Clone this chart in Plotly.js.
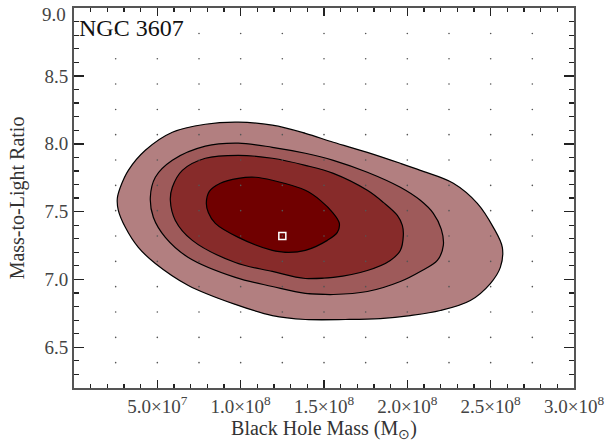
<!DOCTYPE html>
<html>
<head>
<meta charset="utf-8">
<script src="https://cdn.plot.ly/plotly-3.0.1.min.js"></script>
<style>html,body{margin:0;padding:0;background:#fff;}#chart{width:608px;height:444px;}</style>
</head>
<body>
<div id="chart"></div>
<script>
// Confidence contour outlines (black hole mass, M/L)
const c1X = [2.60e7,2.78e7,3.26e7,4.28e7,5.90e7,7.88e7,9.86e7,1.190e8,1.388e8,1.556e8,1.760e8,1.958e8,2.078e8,2.276e8,2.420e8,2.516e8,2.570e8,2.558e8,2.498e8,2.378e8,2.198e8,2.018e8,1.838e8,1.628e8,1.388e8,1.190e8,9.68e7,6.86e7,4.88e7,3.86e7,3.08e7,2.66e7];
const c1Y = [7.598,7.679,7.804,7.952,8.085,8.144,8.159,8.137,8.077,8.011,7.937,7.856,7.804,7.709,7.561,7.384,7.236,7.089,6.970,6.845,6.771,6.734,6.712,6.705,6.705,6.734,6.816,6.956,7.118,7.236,7.384,7.509];
const c2X = [4.58e7,4.88e7,5.90e7,7.88e7,9.86e7,1.190e8,1.388e8,1.556e8,1.760e8,1.958e8,2.078e8,2.156e8,2.204e8,2.216e8,2.180e8,2.078e8,1.958e8,1.760e8,1.556e8,1.388e8,1.190e8,9.68e7,6.86e7,5.48e7,4.76e7];
const c2Y = [7.605,7.753,7.878,7.982,8.004,7.974,7.930,7.878,7.790,7.679,7.583,7.487,7.369,7.251,7.140,7.059,6.985,6.911,6.889,6.897,6.948,7.015,7.162,7.310,7.458];
const c3X = [5.78e7,5.90e7,6.50e7,7.88e7,9.86e7,1.190e8,1.388e8,1.556e8,1.760e8,1.856e8,1.940e8,1.970e8,1.976e8,1.958e8,1.898e8,1.760e8,1.556e8,1.388e8,1.190e8,9.68e7,7.10e7,6.08e7];
const c3Y = [7.583,7.679,7.804,7.893,7.915,7.893,7.841,7.782,7.657,7.568,7.472,7.399,7.325,7.214,7.140,7.066,7.015,7.007,7.059,7.125,7.288,7.435];
const c4X = [7.94e7,8.12e7,8.78e7,9.86e7,1.088e8,1.190e8,1.388e8,1.478e8,1.556e8,1.592e8,1.580e8,1.520e8,1.388e8,1.286e8,1.190e8,9.86e7,8.48e7,8.06e7];
const c4Y = [7.561,7.649,7.709,7.745,7.753,7.731,7.657,7.583,7.487,7.413,7.347,7.288,7.214,7.199,7.214,7.310,7.413,7.494];
const fillColors = ["#b27f80","#9e5a5a","#872b2a","#700000"];

// Best-fit point
const bestX = [1.25e8];
const bestY = [7.32];

// Model grid
const gridX = [2.5e7,5.0e7,7.5e7,1.0e8,1.25e8,1.5e8,1.75e8,2.0e8,2.25e8,2.5e8,2.75e8];
const gridY = [6.387,6.573,6.760,6.947,7.133,7.320,7.507,7.693,7.880,8.067,8.253,8.440,8.627,8.813];

// Ticks
const xTickVals = [5e7,1e8,1.5e8,2e8,2.5e8,3e8];
const xTickText = ["5.0×10<sup>7</sup>","1.0×10<sup>8</sup>","1.5×10<sup>8</sup>","2.0×10<sup>8</sup>","2.5×10<sup>8</sup>","3.0×10<sup>8</sup>"];
const yTickVals = [6.5,7.0,7.5,8.0,8.5,9.0];
const yTickText = ["6.5","7.0","7.5","8.0","8.5",""];
const yTopLabel = "9.0";

// rotate so the path starts mid-bottom, then wrap two points for a smooth join
function wrap(xs, ys, k){
  const n = xs.length, X=[], Y=[];
  for(let i=0;i<=n+1;i++){ X.push(xs[(k+i)%n]); Y.push(ys[(k+i)%n]); }
  return [X,Y];
}

const contours = [[c1X,c1Y,23],[c2X,c2Y,18],[c3X,c3Y,16],[c4X,c4Y,13]];
const traces = contours.map((c,i)=>{
  const w = wrap(c[0],c[1],c[2]);
  return {
    type:'scatter', mode:'lines', x:w[0], y:w[1],
    fill:'toself', fillcolor:fillColors[i],
    line:{color:'#000', width:1.2, shape:'spline', smoothing:1},
    hoverinfo:'skip', showlegend:false
  };
});

const gx=[], gy=[];
gridY.forEach(y=>gridX.forEach(x=>{gx.push(x); gy.push(y);}));
traces.push({type:'scatter', mode:'markers', x:gx, y:gy,
  marker:{size:1.6, color:'#555', line:{width:0}}, hoverinfo:'skip', showlegend:false});
traces.push({type:'scatter', mode:'markers', x:bestX, y:bestY,
  marker:{symbol:'square-open', size:7, color:'#fff', line:{width:1.5, color:'#fff'}}, showlegend:false});

const fam = '"Liberation Serif", "Times New Roman", serif';
const layout = {
  width:608, height:444,
  margin:{l:74, r:34, t:8, b:56},
  paper_bgcolor:'#fff', plot_bgcolor:'#fff',
  font:{family:fam, size:19, color:'#444'},
  showlegend:false,
  xaxis:{
    range:[0,3.0e8], tickmode:'array', tickvals:xTickVals, ticktext:xTickText,
    ticks:'inside', ticklen:8, tickwidth:1.5, tickcolor:'#222',
    showline:true, linecolor:'#555', linewidth:2, mirror:'allticks',
    showgrid:false, zeroline:false,
    minor:{tickmode:'linear', tick0:0, dtick:1e7, ticks:'inside', ticklen:4, tickwidth:1.2, tickcolor:'#222', showgrid:false},
    tickfont:{family:fam, size:19, color:'#444'},
    title:{text:'Black Hole Mass (M<sub>⊙</sub>)', font:{family:fam, size:20, color:'#333'}, standoff:4}
  },
  yaxis:{
    range:[6.2,9.0005], tickmode:'array', tickvals:yTickVals, ticktext:yTickText,
    ticks:'inside', ticklen:10, tickwidth:1.5, tickcolor:'#222',
    showline:true, linecolor:'#555', linewidth:2, mirror:'allticks',
    showgrid:false, zeroline:false,
    minor:{tickmode:'linear', tick0:0, dtick:0.1, ticks:'inside', ticklen:5, tickwidth:1.2, tickcolor:'#222', showgrid:false},
    tickfont:{family:fam, size:19, color:'#444'},
    title:{text:'Mass-to-Light Ratio', font:{family:fam, size:20, color:'#333'}, standoff:14}
  },
  annotations:[{
    text:'NGC 3607', xref:'paper', yref:'paper', x:0.005, y:0.947, xanchor:'left', yanchor:'middle',
    showarrow:false, font:{family:fam, size:24, color:'#111'}
  },{
    text:yTopLabel, xref:'paper', yref:'paper', x:-0.012, y:0.9816, xanchor:'right', yanchor:'middle',
    showarrow:false, font:{family:fam, size:19, color:'#444'}
  }]
};

Plotly.newPlot('chart', traces, layout, {staticPlot:true, displayModeBar:false});
</script>
</body>
</html>
